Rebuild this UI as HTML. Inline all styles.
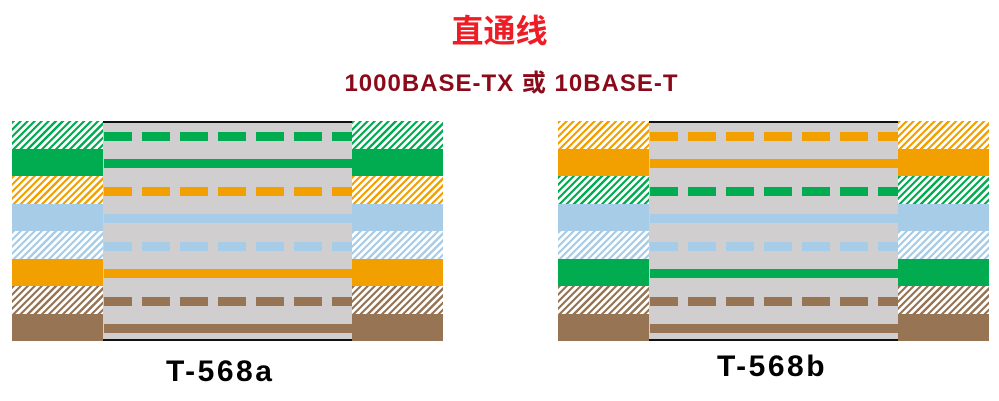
<!DOCTYPE html>
<html><head><meta charset="utf-8"><style>
body{margin:0;width:999px;height:401px;background:#fff;position:relative;overflow:hidden;font-family:"Liberation Sans","Noto Sans CJK SC",sans-serif}
.a{position:absolute}
.t1{left:0;width:999px;top:11px;text-align:center;color:#ee1c25;font-size:32px;font-weight:bold;line-height:40px}
.t2{left:12px;width:999px;top:69px;text-align:center;color:#8b0a1a;font-size:24px;font-weight:bold;line-height:30px;letter-spacing:1px}
.lab{font-size:30px;font-weight:bold;color:#000;line-height:32px;letter-spacing:2.5px}
.blk{position:absolute;width:91px;height:27.5px}
.mid{position:absolute;width:249px;height:220px;top:121px;background:#d0cece;border-top:2px solid #111;border-bottom:2px solid #111;box-sizing:border-box}
.ln{position:absolute;left:1px;right:0;height:9px}
</style></head><body>
<div class="a t1">直通线</div>
<div class="a t2">1000BASE-TX 或 10BASE-T</div>
<div class="a lab" style="left:166px;top:356px">T-568a</div>
<div class="a lab" style="left:717px;top:351px">T-568b</div>
<div id="A"></div>
<script>
var C={g:'#00ac4f',o:'#f2a000',b:'#a6cce8',n:'#967454'};
function draw(x,order){
 var h='';
 var m='<div class="mid" style="left:'+(x+91)+'px">';
 order.forEach(function(k,i){
  var c=C[k[0]],hat=k.length>1,top=121+27.5*i;
  var bg=hat?'repeating-linear-gradient(135deg,'+c+' 0 2.2px,#fff 2.2px 5px)':c;
  [x,x+340].forEach(function(xx){h+='<div class="blk" style="left:'+xx+'px;top:'+top+'px;background:'+bg+'"></div>';});
  var ct=27.5*i+13.75-4.5-0.5;
  var lb=hat?'repeating-linear-gradient(90deg,'+c+' 0 28px,transparent 28px 38px)':c;
  m+='<div class="ln" style="top:'+ct+'px;background:'+lb+'"></div>';
 });
 m+='</div>';
 return h+m;
}
document.getElementById('A').innerHTML=
 draw(12,['gh','g','oh','b','bh','o','nh','n'])+
 draw(558,['oh','o','gh','b','bh','g','nh','n']);
</script>
</body></html>
